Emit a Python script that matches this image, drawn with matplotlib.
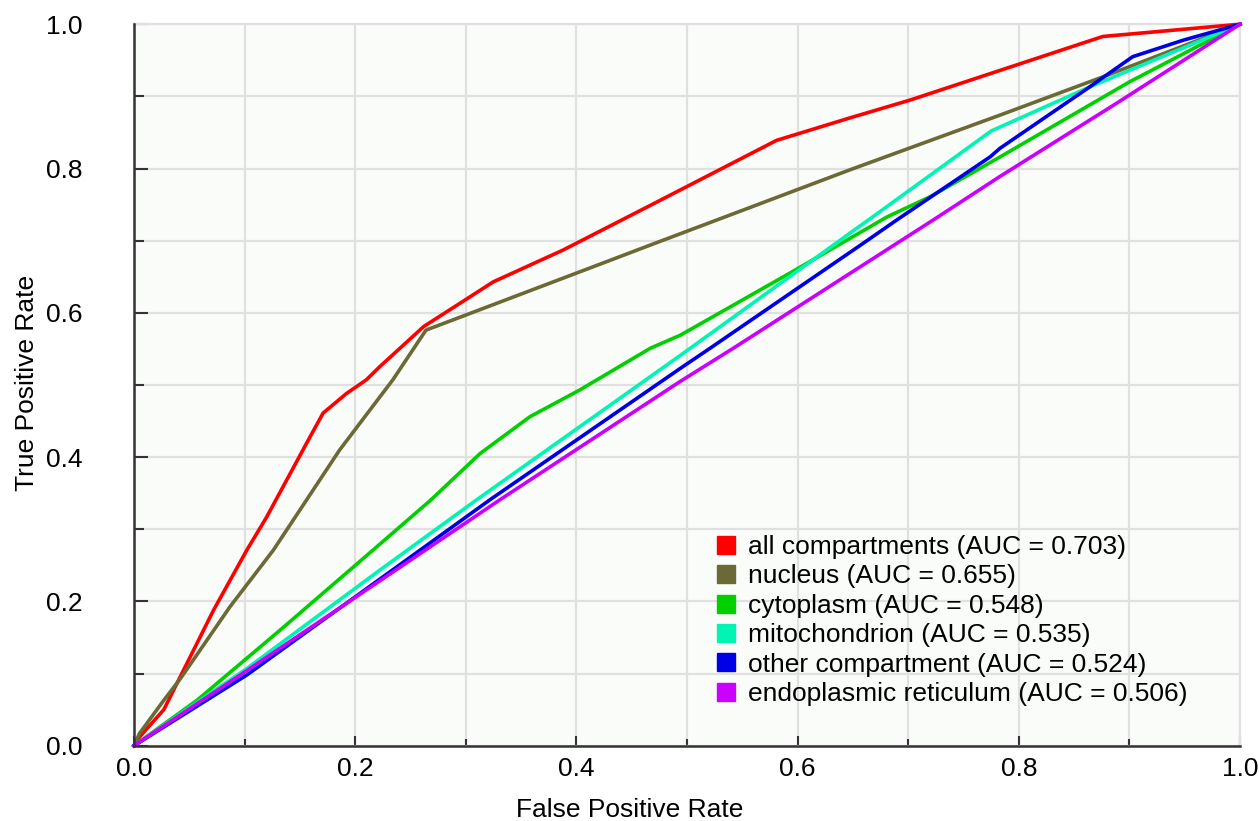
import matplotlib
matplotlib.use("Agg")
import matplotlib.pyplot as plt
from matplotlib.lines import Line2D
from matplotlib.ticker import MultipleLocator

plt.rcParams['font.family'] = ['Liberation Sans', 'DejaVu Sans']

# ROC curve points
all_fpr = [0, 0.005, 0.027, 0.042, 0.072, 0.102, 0.12, 0.138, 0.156, 0.171, 0.192,
           0.21, 0.222, 0.262, 0.325, 0.388, 0.467, 0.581, 0.647, 0.702, 0.876, 1.0]
all_tpr = [0, 0.012, 0.05, 0.096, 0.188, 0.271, 0.317, 0.368, 0.419, 0.461, 0.488,
           0.507, 0.525, 0.581, 0.643, 0.687, 0.749, 0.839, 0.870, 0.895, 0.983, 1.0]

nucleus_fpr = [0, 0.005, 0.027, 0.042, 0.087, 0.126, 0.186, 0.234, 0.264, 0.4,
               0.467, 0.647, 0.783, 0.876, 1.0]
nucleus_tpr = [0, 0.017, 0.063, 0.093, 0.193, 0.271, 0.41, 0.507, 0.576, 0.655,
               0.694, 0.798, 0.874, 0.927, 1.0]

cyto_fpr = [0, 0.057, 0.132, 0.216, 0.268, 0.313, 0.358, 0.403, 0.467, 0.494,
            0.593, 0.681, 0.72, 0.783, 0.9, 1.0]
cyto_tpr = [0, 0.063, 0.160, 0.271, 0.340, 0.405, 0.456, 0.493, 0.551, 0.569,
            0.655, 0.733, 0.761, 0.816, 0.92, 1.0]

mito_fpr = [0, 0.102, 0.222, 0.31, 0.494, 0.647, 0.668, 0.775, 0.864, 1.0]
mito_tpr = [0, 0.107, 0.243, 0.341, 0.541, 0.710, 0.733, 0.852, 0.913, 1.0]

other_fpr = [0, 0.102, 0.322, 0.494, 0.521, 0.659, 0.690, 0.774, 0.783, 0.864,
             0.903, 0.949, 1.0]
other_tpr = [0, 0.098, 0.341, 0.523, 0.551, 0.696, 0.729, 0.816, 0.828, 0.913,
             0.955, 0.978, 1.0]

er_fpr = [0, 0.102, 0.331, 0.494, 0.542, 0.723, 0.783, 0.888, 1.0]
er_tpr = [0, 0.104, 0.341, 0.505, 0.551, 0.729, 0.789, 0.890, 1.0]

labels = ["all compartments (AUC = 0.703)", "nucleus (AUC = 0.655)",
          "cytoplasm (AUC = 0.548)", "mitochondrion (AUC = 0.535)",
          "other compartment (AUC = 0.524)", "endoplasmic reticulum (AUC = 0.506)"]
colors = ["#ff0000", "#6b6a35", "#00d000", "#00f5b5", "#0000e6", "#cc00ff"]


def main():
    fig = plt.figure(figsize=(12.59, 8.21), dpi=100)
    ax = fig.add_axes([0.1064, 0.0917, 0.8785, 0.8788])
    ax.set_facecolor("#fafcfa")

    curves = [(all_fpr, all_tpr), (nucleus_fpr, nucleus_tpr), (cyto_fpr, cyto_tpr),
              (mito_fpr, mito_tpr), (other_fpr, other_tpr), (er_fpr, er_tpr)]
    for (fpr, tpr), c in zip(curves, colors):
        ax.plot(fpr, tpr, color=c, lw=2.6, zorder=3, clip_on=False)

    ax.set_xlim(0, 1)
    ax.set_ylim(0, 1)
    ax.xaxis.set_minor_locator(MultipleLocator(0.1))
    ax.yaxis.set_minor_locator(MultipleLocator(0.1))
    ax.grid(True, which="both", color="#e0e0e0", lw=1.6, zorder=0)
    ax.set_axisbelow(True)

    for side in ["top", "right"]:
        ax.spines[side].set_color("#e0e0e0")
        ax.spines[side].set_linewidth(1.6)
    for side in ["left", "bottom"]:
        ax.spines[side].set_color("#333333")
        ax.spines[side].set_linewidth(1.8)
        ax.spines[side].set_zorder(4)

    ax.tick_params(axis="both", which="both", direction="in", color="#333333",
                   width=1.5, labelsize=19)
    ax.tick_params(axis="y", which="major", length=10, pad=37)
    ax.tick_params(axis="y", which="minor", length=7)
    ax.tick_params(axis="x", which="major", length=7, pad=8)
    ax.tick_params(axis="x", which="minor", length=5)
    ticks = [0, 0.2, 0.4, 0.6, 0.8, 1.0]
    ax.set_xticks(ticks)
    ax.set_yticks(ticks)
    ax.set_xticklabels([f"{v:.1f}" for v in ticks])
    ax.set_yticklabels([f"{v:.1f}" for v in ticks])

    ax.set_xlabel("False Positive Rate", fontsize=19)
    ax.set_ylabel("True Positive Rate", fontsize=19)
    ax.xaxis.set_label_coords(0.4485, -0.0725)
    ax.yaxis.set_label_coords(-0.086, 0.503)

    handles = [Line2D([], [], ls="none", marker="s", markersize=13,
                      markerfacecolor=c, markeredgecolor=c) for c in colors]
    ax.legend(handles, labels, loc="upper left", bbox_to_anchor=(0.5235, 0.292),
              frameon=False, fontsize=19, borderpad=0, borderaxespad=0,
              handlelength=1.0, handletextpad=0.32, labelspacing=0.205)

    fig.savefig("out.png", dpi=100)


if __name__ == "__main__":
    main()
